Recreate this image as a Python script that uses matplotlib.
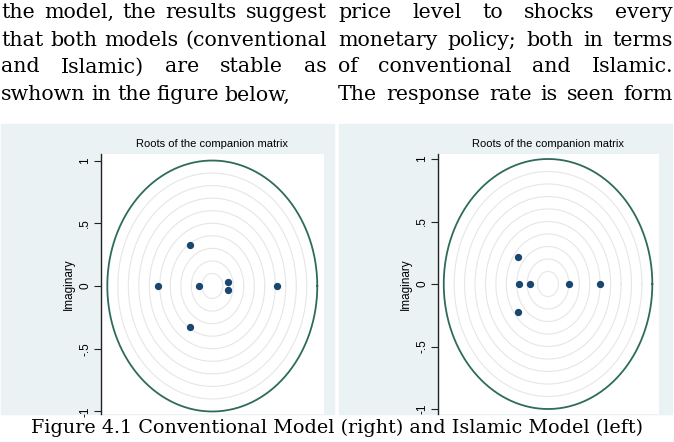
import numpy as np
import matplotlib.pyplot as plt
from matplotlib.patches import Rectangle

# text of the page around the figure
left_lines = ["the model, the results suggest",
              "that both models (conventional",
              "and Islamic) are stable as",
              "swhown in the figure below,"]
right_lines = ["price level to shocks every",
               "monetary policy; both in terms",
               "of conventional and Islamic.",
               "The response rate is seen form"]
caption = "Figure 4.1 Conventional Model (right) and Islamic Model (left)"
panel_title = "Roots of the companion matrix"

# eigenvalues (left = Islamic, right = conventional)
islamic_real = [-0.21, -0.52, -0.13, 0.15, 0.15, 0.62, -0.21]
islamic_imag = [0.33, 0.0, 0.0, 0.03, -0.03, 0.0, -0.33]
conv_real = [-0.29, -0.28, -0.175, 0.20, 0.50, -0.29]
conv_imag = [0.22, 0.0, 0.0, 0.0, 0.0, -0.22]

ytick_vals = [-1, -0.5, 0, 0.5, 1]
ytick_labels = ["-1", "-.5", "0", ".5", "1"]

W, H = 674, 442
fig = plt.figure(figsize=(W / 100, H / 100), dpi=100)
renderer = fig.canvas.get_renderer()

serif = 'DejaVu Serif'
sans = 'Liberation Sans'


def put_line(line, x0, x1, y, justify, size=14.8):
    # place words one by one so the line is justified like the page
    words = line.split()
    texts = [fig.text(0, 1 - y / H, w, fontsize=size, family=serif,
                      va='center', ha='left') for w in words]
    widths = [t.get_window_extent(renderer).width for t in texts]
    if justify and len(words) > 1:
        gap = (x1 - x0 - sum(widths)) / (len(words) - 1)
    else:
        gap = size * 0.28 * 100 / 72
    x = x0
    for t, w in zip(texts, widths):
        t.set_x(x / W)
        x += w + gap


line_y = [12, 40, 67, 95]
for i, line in enumerate(left_lines):
    put_line(line, 1, 327, line_y[i], justify=(i < 3))
for i, line in enumerate(right_lines):
    put_line(line, 338, 673, line_y[i], justify=True)

fig.text(337 / W, 1 - 428 / H, caption, fontsize=13.8, family=serif,
         ha='center', va='center')


def panel(bg, plot, real, imag, xlim, ylim):
    bx0, by0, bx1, by1 = bg
    fig.patches.append(Rectangle((bx0 / W, 1 - by1 / H), (bx1 - bx0) / W,
                                 (by1 - by0) / H, transform=fig.transFigure,
                                 color='#eaf2f3', zorder=-5))
    px0, py0, px1, py1 = plot
    fig.text((px0 + px1) / 2 / W, 1 - 144 / H, panel_title,
             fontsize=8, family=sans, ha='center', va='center')
    ax = fig.add_axes([px0 / W, 1 - py1 / H, (px1 - px0) / W, (py1 - py0) / H],
                      zorder=2)
    ax.set_facecolor('white')
    t = np.linspace(0, 2 * np.pi, 400)
    for r in np.arange(0.1, 1.0, 0.1):
        ax.plot(r * np.cos(t), r * np.sin(t), color='#e6e6e6', lw=0.8, zorder=1)
    ax.plot(np.cos(t), np.sin(t), color='#2e6b5c', lw=1.3, zorder=2)
    ax.scatter(real, imag, s=18, color='#1a476f', zorder=3)
    ax.set_xlim(*xlim)
    ax.set_ylim(*ylim)
    for s in ['top', 'right', 'bottom']:
        ax.spines[s].set_visible(False)
    ax.spines['left'].set_color('#222222')
    ax.spines['left'].set_linewidth(1.0)
    ax.set_xticks([])
    ax.set_yticks(ytick_vals)
    ax.set_yticklabels(ytick_labels, rotation=90, va='center',
                       fontsize=8.5, family=sans)
    ax.tick_params(axis='y', length=5, width=0.8, pad=2, color='#222222')
    ax.set_ylabel("Imaginary", fontsize=8.5, family=sans, labelpad=3)
    return ax


panel((1, 124, 334, 414), (101, 154, 324, 414),
      islamic_real, islamic_imag, (-1.06, 1.064), (-1.02, 1.052))
panel((339, 124, 672, 414), (438, 154, 659, 414),
      conv_real, conv_imag, (-1.055, 1.064), (-1.04, 1.04))

fig.savefig('out.png', dpi=100, facecolor='white')
